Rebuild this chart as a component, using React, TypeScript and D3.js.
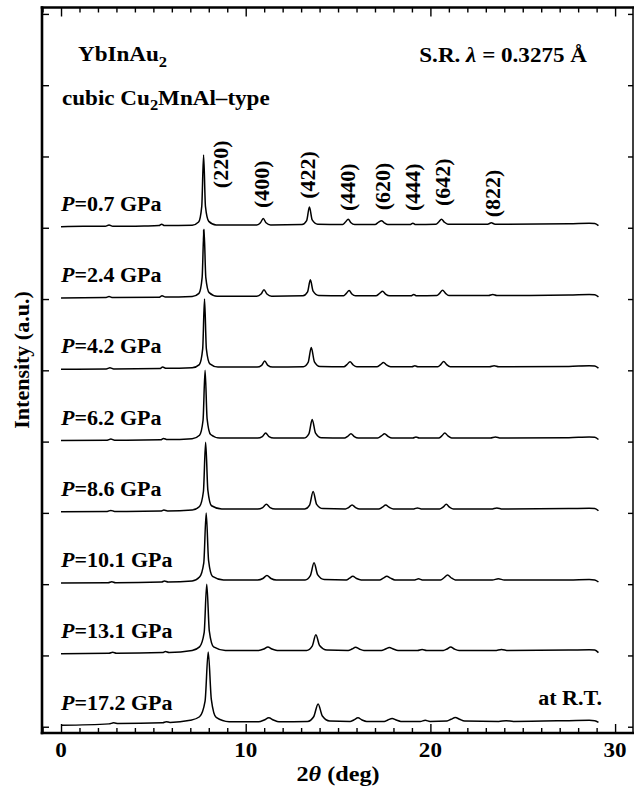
import React, { useEffect, useRef } from 'react'
import * as d3 from 'd3'

// pressures (GPa) top to bottom, and the vertical offset of each pattern
const pressures = ['0.7', '2.4', '4.2', '6.2', '8.6', '10.1', '13.1', '17.2']
const offsets = [7, 6, 5, 4, 3, 2, 1, 0]

// [2theta (deg), intensity (a.u.)], one list per pressure
const p07 = [[0,0.015],[1.2,0.02],[2.4,0.02],[2.6,0.04],[2.8,0.02],[4.5,0.025],[5.3,0.03],[5.45,0.05],[5.6,0.03],[7.1,0.035],[7.45,0.08],[7.62,0.3],[7.72,1.02],[7.82,0.3],[8.0,0.09],[8.4,0.04],[10.6,0.04],[10.8,0.07],[10.95,0.13],[11.1,0.07],[11.35,0.04],[13.05,0.045],[13.3,0.1],[13.45,0.29],[13.6,0.11],[13.9,0.05],[15.25,0.045],[15.4,0.08],[15.55,0.12],[15.7,0.07],[15.9,0.045],[17.0,0.045],[17.2,0.08],[17.35,0.1],[17.5,0.07],[17.7,0.045],[18.9,0.045],[19.05,0.065],[19.2,0.045],[20.3,0.05],[20.45,0.08],[20.6,0.12],[20.75,0.08],[20.95,0.05],[23.1,0.05],[23.3,0.07],[23.5,0.05],[27.5,0.055],[28.6,0.065],[28.9,0.06],[29.1,0.03]]
const p24 = [[0,0.015],[2.4,0.02],[2.6,0.035],[2.8,0.02],[5.3,0.025],[5.47,0.045],[5.65,0.028],[7.1,0.035],[7.47,0.08],[7.64,0.3],[7.74,0.98],[7.84,0.3],[8.02,0.09],[8.45,0.04],[10.6,0.04],[10.83,0.07],[10.99,0.13],[11.15,0.07],[11.4,0.04],[13.1,0.045],[13.35,0.1],[13.5,0.27],[13.65,0.11],[13.95,0.05],[15.3,0.045],[15.45,0.08],[15.6,0.12],[15.75,0.07],[15.95,0.045],[17.05,0.045],[17.25,0.08],[17.41,0.11],[17.57,0.07],[17.8,0.045],[18.95,0.045],[19.1,0.065],[19.25,0.045],[20.35,0.05],[20.5,0.08],[20.66,0.125],[20.82,0.08],[21.0,0.05],[23.15,0.05],[23.38,0.065],[23.6,0.05],[27.5,0.055],[28.6,0.065],[28.9,0.06],[29.1,0.03]]
const p42 = [[0,0.015],[2.45,0.02],[2.65,0.035],[2.85,0.02],[5.35,0.025],[5.5,0.045],[5.7,0.028],[7.1,0.035],[7.49,0.08],[7.67,0.3],[7.77,1.0],[7.87,0.3],[8.06,0.09],[8.5,0.045],[10.62,0.045],[10.86,0.07],[11.03,0.13],[11.2,0.07],[11.45,0.045],[13.12,0.05],[13.38,0.11],[13.55,0.32],[13.72,0.12],[14.02,0.055],[15.32,0.05],[15.48,0.08],[15.65,0.12],[15.82,0.075],[16.02,0.05],[17.1,0.05],[17.3,0.08],[17.46,0.11],[17.62,0.075],[17.85,0.05],[19.0,0.05],[19.16,0.065],[19.32,0.05],[20.4,0.05],[20.56,0.08],[20.72,0.125],[20.88,0.08],[21.08,0.05],[23.2,0.05],[23.45,0.065],[23.7,0.05],[27.5,0.055],[28.6,0.065],[28.9,0.06],[29.1,0.03]]
const p62 = [[0,0.015],[2.5,0.02],[2.7,0.035],[2.9,0.02],[5.4,0.025],[5.55,0.045],[5.75,0.028],[7.1,0.04],[7.5,0.09],[7.69,0.3],[7.8,1.0],[7.91,0.32],[8.1,0.1],[8.6,0.05],[10.65,0.05],[10.9,0.07],[11.08,0.12],[11.26,0.07],[11.52,0.05],[13.15,0.05],[13.42,0.11],[13.6,0.31],[13.78,0.12],[14.1,0.055],[15.35,0.05],[15.52,0.075],[15.7,0.11],[15.88,0.07],[16.1,0.05],[17.15,0.05],[17.35,0.08],[17.52,0.11],[17.7,0.075],[17.92,0.05],[19.05,0.05],[19.22,0.065],[19.4,0.05],[20.45,0.05],[20.62,0.08],[20.78,0.12],[20.95,0.08],[21.15,0.05],[23.25,0.05],[23.52,0.065],[23.8,0.05],[27.5,0.055],[28.6,0.065],[28.9,0.06],[29.1,0.03]]
const p86 = [[0,0.015],[2.5,0.02],[2.7,0.035],[2.9,0.02],[5.4,0.025],[5.57,0.04],[5.77,0.028],[7.1,0.04],[7.5,0.09],[7.71,0.3],[7.83,0.99],[7.95,0.32],[8.15,0.1],[8.7,0.055],[10.65,0.055],[10.92,0.075],[11.12,0.12],[11.32,0.075],[11.6,0.055],[13.2,0.055],[13.46,0.11],[13.65,0.3],[13.84,0.12],[14.18,0.06],[15.4,0.055],[15.57,0.075],[15.76,0.11],[15.95,0.075],[16.18,0.055],[17.2,0.055],[17.4,0.08],[17.58,0.11],[17.76,0.08],[18.0,0.055],[19.1,0.055],[19.3,0.07],[19.5,0.055],[20.5,0.055],[20.68,0.08],[20.86,0.12],[21.04,0.08],[21.25,0.055],[23.3,0.055],[23.6,0.07],[23.9,0.055],[27.5,0.06],[28.6,0.065],[28.9,0.06],[29.1,0.03]]
const p101 = [[0,0.015],[2.55,0.02],[2.75,0.035],[2.95,0.02],[5.45,0.03],[5.6,0.045],[5.8,0.03],[7.1,0.045],[7.5,0.1],[7.73,0.3],[7.86,1.0],[7.99,0.33],[8.2,0.11],[8.8,0.06],[10.65,0.06],[10.93,0.08],[11.15,0.12],[11.37,0.08],[11.65,0.06],[13.22,0.06],[13.5,0.12],[13.7,0.3],[13.9,0.13],[14.25,0.065],[15.45,0.06],[15.6,0.08],[15.8,0.11],[16.0,0.08],[16.25,0.06],[17.25,0.06],[17.45,0.085],[17.64,0.11],[17.84,0.085],[18.08,0.06],[19.15,0.06],[19.36,0.075],[19.56,0.06],[20.55,0.06],[20.74,0.09],[20.93,0.13],[21.12,0.09],[21.35,0.06],[23.35,0.06],[23.68,0.075],[24.0,0.06],[27.5,0.06],[28.6,0.065],[28.9,0.06],[29.1,0.03]]
const p131 = [[0,0.025],[2.6,0.03],[2.8,0.045],[3.0,0.03],[5.5,0.04],[5.65,0.055],[5.85,0.04],[7.1,0.07],[7.5,0.12],[7.75,0.32],[7.89,1.0],[8.03,0.34],[8.26,0.12],[8.9,0.07],[10.7,0.07],[10.98,0.09],[11.2,0.12],[11.42,0.09],[11.7,0.07],[13.3,0.07],[13.6,0.13],[13.8,0.29],[14.0,0.14],[14.4,0.075],[15.55,0.07],[15.75,0.09],[15.95,0.115],[16.15,0.09],[16.4,0.07],[17.35,0.07],[17.57,0.09],[17.78,0.11],[17.99,0.09],[18.25,0.07],[19.3,0.07],[19.55,0.085],[19.8,0.07],[20.7,0.07],[20.9,0.09],[21.1,0.12],[21.3,0.09],[21.55,0.07],[23.5,0.07],[23.85,0.085],[24.2,0.07],[27.5,0.075],[28.6,0.08],[28.9,0.075],[29.1,0.04]]
const p172 = [[0,0.02],[2.6,0.04],[2.85,0.055],[3.1,0.045],[5.5,0.055],[5.7,0.07],[5.9,0.06],[7.0,0.09],[7.5,0.14],[7.8,0.36],[7.97,1.05],[8.14,0.38],[8.4,0.13],[9.1,0.07],[10.7,0.07],[11.0,0.095],[11.25,0.125],[11.5,0.095],[11.8,0.07],[13.35,0.075],[13.68,0.14],[13.92,0.32],[14.15,0.15],[14.55,0.08],[15.65,0.075],[15.85,0.095],[16.08,0.125],[16.3,0.095],[16.55,0.075],[17.5,0.075],[17.7,0.095],[17.93,0.115],[18.15,0.095],[18.4,0.075],[19.45,0.075],[19.72,0.09],[19.98,0.075],[20.9,0.08],[21.12,0.105],[21.35,0.13],[21.58,0.105],[21.85,0.08],[23.7,0.075],[24.1,0.085],[24.5,0.075],[27.5,0.085],[28.6,0.09],[28.9,0.085],[29.1,0.06]]
const traces = [p07, p24, p42, p62, p86, p101, p131, p172]

// Miller indices marked above the 0.7 GPa pattern: 2theta, height
const hkl = ['(220)', '(400)', '(422)', '(440)', '(620)', '(444)', '(642)', '(822)']
const hklAt = [8.66, 10.88, 13.37, 15.54, 17.43, 19.06, 20.68, 23.39]
const hklLevel = [7.89, 7.61, 7.74, 7.57, 7.58, 7.57, 7.64, 7.48]

const xMajorTicks = [0, 10, 20, 30]
const yTicks = [0, 1, 2, 3, 4, 5, 6, 7, 8, 9, 10]

const W = 634, H = 791
const frame = { left: 42, right: 633, top: 7.5, bottom: 733 }
const font = '"Liberation Serif", "Times New Roman", serif'
const stretch = 1.1 // the lettering of the original is a little wider than Times

const Txt = ({ x, y, rotate = 0, sx = stretch, children, ...rest }: any) => (
  <g transform={`translate(${x},${y}) rotate(${rotate}) scale(${sx},1)`}>
    <text {...rest}>{children}</text>
  </g>
)

export default function App() {
  const axesRef = useRef<SVGGElement>(null)
  const x = d3.scaleLinear().domain([-1.03, 30.97]).range([frame.left, frame.right])
  const y = d3.scaleLinear().domain([-0.088, 10.09]).range([frame.bottom, frame.top])
  const line = d3.line<number[]>().x(d => x(d[0])).y(d => y(d[1])).curve(d3.curveMonotoneX)

  useEffect(() => {
    const g = d3.select(axesRef.current)
    g.selectAll('*').remove()
    const minor = x.ticks(30).filter(v => xMajorTicks.indexOf(v) < 0)
    const blank = () => ''
    g.append('g').attr('transform', `translate(0,${frame.bottom})`)
      .call(d3.axisBottom(x).tickValues(minor).tickSize(-5).tickFormat(blank))
    g.append('g').attr('transform', `translate(0,${frame.bottom})`)
      .call(d3.axisBottom(x).tickValues(xMajorTicks).tickSize(-9).tickFormat(blank))
    g.append('g').attr('transform', `translate(0,${frame.top})`)
      .call(d3.axisTop(x).tickValues(minor).tickSize(-5).tickFormat(blank))
    g.append('g').attr('transform', `translate(0,${frame.top})`)
      .call(d3.axisTop(x).tickValues(xMajorTicks).tickSize(-9).tickFormat(blank))
    g.append('g').attr('transform', `translate(${frame.left},0)`)
      .call(d3.axisLeft(y).tickValues(yTicks).tickSize(-7).tickFormat(blank))
    g.append('g').attr('transform', `translate(${frame.right},0)`)
      .call(d3.axisRight(y).tickValues(yTicks).tickSize(-5).tickFormat(blank))
    g.selectAll('.domain').remove()
    g.selectAll('line').attr('stroke', '#000').attr('stroke-width', 1.4)
  }, [])

  return (
    <svg width={W} height={H} style={{ position: 'absolute', left: 0, top: 0, background: '#fff' }}
      fontFamily={font} fontWeight="bold" fill="#000">
      <g ref={axesRef} />
      <g stroke="#000" strokeLinecap="square">
        <line x1={frame.left} x2={frame.right} y1={frame.top} y2={frame.top} strokeWidth={2.6} />
        <line x1={frame.left} x2={frame.right} y1={frame.bottom} y2={frame.bottom} strokeWidth={2.6} />
        <line x1={frame.left} x2={frame.left} y1={frame.top} y2={frame.bottom} strokeWidth={2.6} />
        <line x1={frame.right} x2={frame.right} y1={frame.top} y2={frame.bottom} strokeWidth={1.5} />
      </g>

      {traces.map((t, i) => (
        <path key={i} d={line(t.map(d => [d[0], d[1] + offsets[i]]))!} fill="none" stroke="#000" strokeWidth={1.5} />
      ))}
      <line x1={x(7.72)} x2={x(7.72)} y1={y(7) + 2} y2={y(7) + 12} stroke="#000" strokeWidth={1.4} />

      {pressures.map((p, i) => (
        <Txt key={p} x={61} y={y(offsets[i]) - 17} fontSize={20}>
          <tspan fontStyle="italic">P</tspan>={p} GPa
        </Txt>
      ))}

      {hkl.map((h, i) => (
        <Txt key={h} x={x(hklAt[i])} y={y(hklLevel[i])} rotate={-90}
          textAnchor="middle" dy="0.35em" fontSize={20}>{h}</Txt>
      ))}

      <Txt x={78} y={61} fontSize={21}>YbInAu<tspan fontSize={15} dy={6}>2</tspan></Txt>
      <Txt x={62} y={105} fontSize={21}>
        cubic Cu<tspan fontSize={15} dy={5}>2</tspan><tspan dy={-5}>MnAl–type</tspan>
      </Txt>
      <Txt x={587} y={62} fontSize={21} textAnchor="end">
        S.R. <tspan fontStyle="italic">λ</tspan> = 0.3275 Å
      </Txt>
      <Txt x={602} y={705} fontSize={20} textAnchor="end">at R.T.</Txt>

      {xMajorTicks.map(v => (
        <Txt key={v} x={x(v)} y={757} fontSize={21} textAnchor="middle">{v}</Txt>
      ))}
      <Txt x={x(15)} y={781} fontSize={22} textAnchor="middle">
        2<tspan fontStyle="italic">θ</tspan> (deg)
      </Txt>
      <Txt x={29} y={360} rotate={-90} fontSize={20} textAnchor="middle">Intensity (a.u.)</Txt>
    </svg>
  )
}
